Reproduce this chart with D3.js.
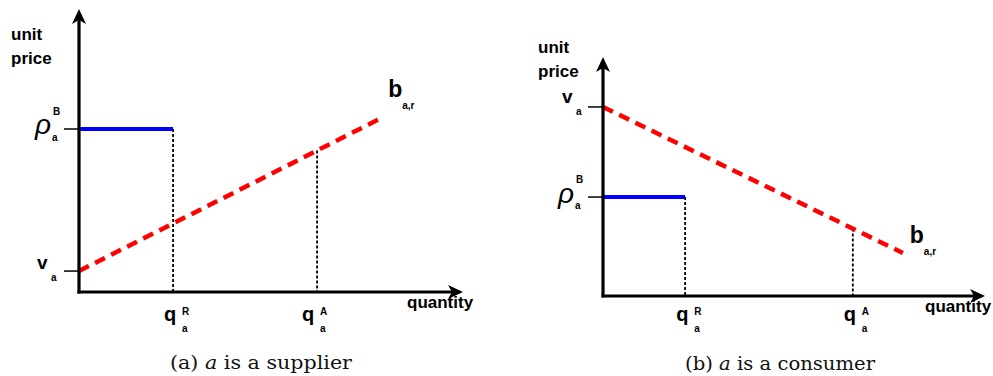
<!DOCTYPE html>
<html>
<head>
<meta charset="utf-8">
<script src="https://cdn.jsdelivr.net/npm/d3@7"></script>
<style>
  html, body { margin: 0; padding: 0; background: #fff; }
  svg { display: block; }
  .lbl { font-family: "Liberation Sans", Arial, sans-serif; font-weight: bold; fill: #000; }
  .cap { font-family: "DejaVu Serif", serif; fill: #111; }
</style>
</head>
<body>
<div id="graph"></div>
<script>
/*******************************************************************************
* Data (abstract units, both axes run 0..10 up to the arrow tip)
*******************************************************************************/
var panelIds   = ["a", "b"];
var roles      = ["supplier", "consumer"];
var qR         = [2.45, 2.15];          // reserved quantity q_a^R
var qA         = [6.20, 6.54];          // accepted quantity q_a^A
var rhoB       = [5.76, 4.14];          // blue price level rho_a^B
var vA         = [0.74, 7.91];          // valuation v_a (start of b_a,r)
var bEndX      = [7.92, 7.85];          // end of the bid curve b_a,r
var bEndY      = [6.18, 1.80];
var yAxisTitle = ["unit", "price"];
var xAxisTitle = "quantity";

/*******************************************************************************
* Layout of the two panels
*******************************************************************************/
var layout = [
  { x0: 79,  x1: 463, y0: 292, y1: 9,  capX: 170, capY: 369, capW: 182, titleX: 11,  titleY: [40, 64],
    qxTitle: 407, qyTitle: 308, rhoDx: -44, rhoDy: 5, vDx: -42, vDy: -2,
    qRdx: -9, qAdx: -15, bDx: 5, bDy: -20 },
  { x0: 603, x1: 985, y0: 296, y1: 57, capX: 685, capY: 370, capW: 190, titleX: 538, titleY: [53, 77],
    qxTitle: 925, qyTitle: 312, rhoDx: -45, rhoDy: 6, vDx: -41, vDy: -4,
    qRdx: -9, qAdx: -9, bDx: 7, bDy: -10 }
];

var svg = d3.select("#graph").append("svg")
  .attr("width", 993)
  .attr("height", 376);

function arrowUp(x, y) {
  return "M" + x + "," + y + "L" + (x - 7) + "," + (y + 15) + "L" + x + "," + (y + 11) +
         "L" + (x + 7) + "," + (y + 15) + "Z";
}
function arrowRight(x, y) {
  return "M" + x + "," + y + "L" + (x - 15) + "," + (y - 7) + "L" + (x - 11) + "," + y +
         "L" + (x - 15) + "," + (y + 7) + "Z";
}

panelIds.forEach(function(id, i) {
  var L = layout[i];
  var x = d3.scaleLinear().domain([0, 10]).range([L.x0, L.x1]);
  var y = d3.scaleLinear().domain([0, 10]).range([L.y0, L.y1]);
  var g = svg.append("g").attr("class", "panel-" + id);

  // value of the bid curve at a quantity
  var bidAt = function(q) { return vA[i] + (bEndY[i] - vA[i]) * q / bEndX[i]; };

  // dotted drop lines
  g.append("line")
    .attr("x1", x(qR[i])).attr("x2", x(qR[i]))
    .attr("y1", y(rhoB[i])).attr("y2", y(0))
    .attr("stroke", "#000").attr("stroke-width", 1.8).attr("stroke-dasharray", "3,2");
  g.append("line")
    .attr("x1", x(qA[i])).attr("x2", x(qA[i]))
    .attr("y1", y(bidAt(qA[i]))).attr("y2", y(0))
    .attr("stroke", "#000").attr("stroke-width", 1.8).attr("stroke-dasharray", "3,2");

  // ticks at the y axis
  [rhoB[i], vA[i]].forEach(function(v) {
    g.append("line")
      .attr("x1", x(0) - 15).attr("x2", x(0))
      .attr("y1", y(v)).attr("y2", y(v))
      .attr("stroke", "#000").attr("stroke-width", 1.5);
  });

  // blue price line
  g.append("line")
    .attr("x1", x(0)).attr("x2", x(qR[i]))
    .attr("y1", y(rhoB[i])).attr("y2", y(rhoB[i]))
    .attr("stroke", "#0000ff").attr("stroke-width", 4);

  // red dashed bid curve
  g.append("line")
    .attr("x1", x(0)).attr("y1", y(vA[i]))
    .attr("x2", x(bEndX[i])).attr("y2", y(bEndY[i]))
    .attr("stroke", "#ff0000").attr("stroke-width", 4.5).attr("stroke-dasharray", "11,7");

  // axes with arrows
  g.append("line")
    .attr("x1", x(0)).attr("x2", x(0)).attr("y1", y(0) + 1.5).attr("y2", y(10) + 10)
    .attr("stroke", "#000").attr("stroke-width", 3.2);
  g.append("line")
    .attr("x1", x(0) - 1.5).attr("x2", x(10) - 10).attr("y1", y(0)).attr("y2", y(0))
    .attr("stroke", "#000").attr("stroke-width", 3.2);
  g.append("path").attr("d", arrowUp(x(0), y(10))).attr("fill", "#000");
  g.append("path").attr("d", arrowRight(x(10), y(0))).attr("fill", "#000");

  // axis titles
  yAxisTitle.forEach(function(t, k) {
    g.append("text").attr("class", "lbl").attr("x", L.titleX).attr("y", L.titleY[k])
      .style("font-size", "17px").text(t);
  });
  g.append("text").attr("class", "lbl").attr("x", L.qxTitle).attr("y", L.qyTitle)
    .style("font-size", "17px").text(xAxisTitle);

  // rho_a^B
  var ry = y(rhoB[i]);
  g.append("text").attr("class", "lbl").attr("x", x(0) + L.rhoDx).attr("y", ry + L.rhoDy)
    .style("font-size", "28px").style("font-weight", "normal").style("font-style", "italic")
    .text("ρ");
  g.append("text").attr("class", "lbl").attr("x", x(0) + L.rhoDx + 18).attr("y", ry - 14)
    .style("font-size", "10px").text("B");
  g.append("text").attr("class", "lbl").attr("x", x(0) + L.rhoDx + 17).attr("y", ry + 12)
    .style("font-size", "10px").text("a");

  // v_a
  var vy = y(vA[i]);
  g.append("text").attr("class", "lbl").attr("x", x(0) + L.vDx).attr("y", vy + L.vDy)
    .style("font-size", "19px").text("v");
  g.append("text").attr("class", "lbl").attr("x", x(0) + L.vDx + 14).attr("y", vy + L.vDy + 12)
    .style("font-size", "10px").text("a");

  // q_a^R and q_a^A
  [[qR[i], "R", L.qRdx], [qA[i], "A", L.qAdx]].forEach(function(d) {
    var qx = x(d[0]) + d[2];
    g.append("text").attr("class", "lbl").attr("x", qx).attr("y", 321)
      .style("font-size", "20px").text("q");
    g.append("text").attr("class", "lbl").attr("x", qx + 18).attr("y", 315)
      .style("font-size", "10px").text(d[1]);
    g.append("text").attr("class", "lbl").attr("x", qx + 18).attr("y", 332)
      .style("font-size", "10px").text("a");
  });

  // b_a,r
  var bx = x(bEndX[i]) + L.bDx, by = y(bEndY[i]) + L.bDy;
  g.append("text").attr("class", "lbl").attr("x", bx).attr("y", by)
    .style("font-size", "23px").text("b");
  g.append("text").attr("class", "lbl").attr("x", bx + 14).attr("y", by + 12)
    .style("font-size", "10px").text("a,r");

  // caption
  var cap = g.append("text").attr("class", "cap").attr("x", L.capX).attr("y", L.capY)
    .attr("textLength", L.capW).attr("lengthAdjust", "spacingAndGlyphs")
    .style("font-size", "19px");
  cap.append("tspan").text("(" + id + ") ");
  cap.append("tspan").style("font-style", "italic").text("a");
  cap.append("tspan").text(" is a " + roles[i]);
});
</script>
</body>
</html>
